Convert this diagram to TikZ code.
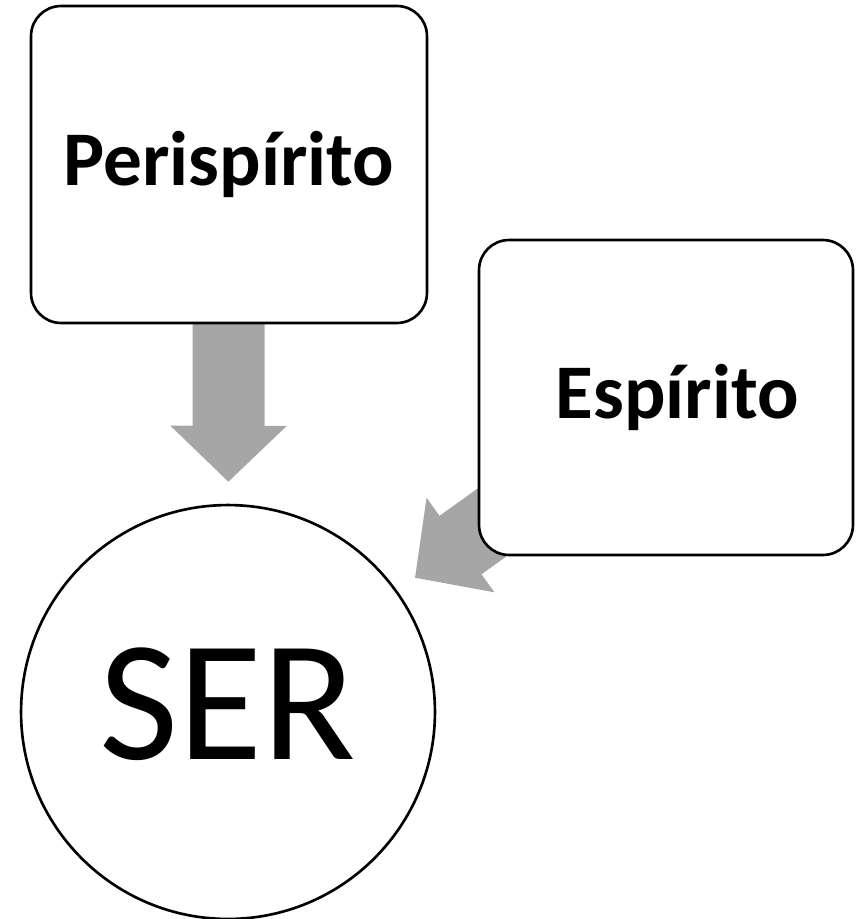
\documentclass[tikz,border=0pt]{standalone}
\usepackage{fontspec}
\setmainfont{Carlito}
\usetikzlibrary{arrows.meta,backgrounds}
\definecolor{cinza}{RGB}{166,166,166}

\begin{document}
\begin{tikzpicture}[x=0.02cm,y=-0.02cm,
  caixa/.style={draw, line width=1.5pt, rounded corners=0.6cm, fill=white,
    minimum width=7.92cm, minimum height=6.34cm, inner sep=0pt,
    font=\fontsize{44}{44}\selectfont\bfseries, text height=28.3pt, text depth=4.4pt},
  seta/.style={draw=cinza, line width=1.44cm,
    -{Triangle[width=2.32cm,length=1.12cm,line width=1.5pt]}, shorten >=0.44cm}]
  \useasboundingbox (0,0) rectangle (856,919);

  \node[caixa] (peri) at (229,164.5) {Perispírito};
  \node[caixa, minimum width=7.48cm, minimum height=6.3cm] (esp) at (666,397.5) {\hspace*{0.44cm}Espírito};
  \node[draw, circle, line width=1.5pt, fill=white, minimum size=8.28cm, inner sep=0pt,
    font=\fontsize{98}{98}\selectfont, text height=63pt, text depth=8.5pt] (ser) at (228,712) {SER};

  \begin{scope}[on background layer]
    \draw[seta] (peri.center) -- (ser);
    \draw[seta] (esp.center) -- (ser);
  \end{scope}
\end{tikzpicture}
\end{document}
